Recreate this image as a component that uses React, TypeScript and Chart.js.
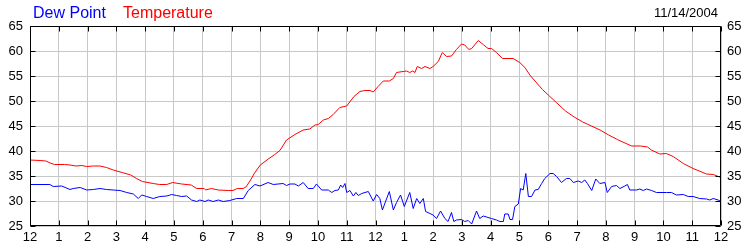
import React, { useEffect, useRef } from "react";
import { Chart, registerables } from "chart.js";

Chart.register(...registerables);

const seriesNames = ["Dew Point", "Temperature"];
const dateLabel = "11/14/2004";
const hourLabels = ["12","1","2","3","4","5","6","7","8","9","10","11","12","1","2","3","4","5","6","7","8","9","10","11","12"];
const yTicks = [25, 30, 35, 40, 45, 50, 55, 60, 65];

const tempHours = [0.0,0.35,0.55,0.7,0.85,1.2,1.39,1.6,1.8,1.97,2.2,2.43,2.66,2.89,3.2,3.5,3.7,3.9,4.28,4.5,4.75,4.95,5.27,5.6,5.79,6.05,6.1,6.3,6.54,6.9,7.05,7.2,7.4,7.5,7.64,7.8,8.0,8.3,8.5,8.68,8.91,9.2,9.49,9.72,9.9,10.01,10.19,10.36,10.53,10.76,11.0,11.25,11.46,11.63,11.81,11.92,12.09,12.27,12.48,12.62,12.73,12.96,13.08,13.19,13.29,13.37,13.45,13.6,13.72,13.89,14.0,14.18,14.32,14.47,14.64,14.81,14.99,15.1,15.24,15.34,15.57,15.74,15.91,16.03,16.2,16.41,16.78,17.01,17.19,17.36,17.6,17.8,18.0,18.3,18.6,18.9,19.2,19.5,19.8,20.1,20.4,20.7,20.9,21.2,21.45,21.58,21.875,22.1,22.34,22.69,23.03,23.5,23.73,24.0];
const tempValues = [38.2,38.1,38.0,37.6,37.3,37.3,37.2,37.0,37.1,36.9,37.0,37.0,36.7,36.2,35.7,35.2,34.5,33.9,33.5,33.3,33.3,33.7,33.4,33.2,32.5,32.5,32.2,32.5,32.2,32.1,32.1,32.5,32.5,32.8,34.0,35.6,37.2,38.5,39.3,40.1,42.2,43.3,44.2,44.4,45.2,45.3,46.2,46.5,47.3,48.7,49.0,50.9,51.9,52.1,52.1,51.8,52.9,54.0,54.0,54.5,55.7,55.9,56.0,55.7,56.0,55.7,56.9,56.5,56.9,56.5,56.9,57.9,59.7,58.9,59.0,60.3,61.4,61.2,60.3,60.5,62.1,61.3,60.5,60.5,59.7,58.5,58.5,57.7,56.7,55.2,53.6,52.3,51.2,49.6,48.0,46.8,45.8,45.0,44.2,43.2,42.3,41.5,41.0,41.0,40.8,40.2,39.4,39.5,38.9,37.5,36.5,35.4,35.3,34.7];

const dewHours = [0.0,0.69,0.81,1.1,1.39,1.5,1.74,1.97,2.2,2.43,2.66,2.89,3.13,3.36,3.59,3.76,3.88,4.05,4.28,4.51,4.75,4.92,5.09,5.27,5.44,5.61,5.79,5.9,6.08,6.19,6.36,6.54,6.71,6.94,7.18,7.41,7.58,7.81,7.99,8.27,8.45,8.79,8.91,9.03,9.2,9.32,9.49,9.66,9.84,9.95,10.13,10.36,10.48,10.59,10.71,10.79,10.86,10.94,11.0,11.11,11.23,11.32,11.4,11.52,11.75,11.92,12.04,12.15,12.24,12.48,12.62,12.73,12.87,13.0,13.19,13.31,13.43,13.54,13.66,13.74,13.89,14.0,14.12,14.26,14.41,14.52,14.64,14.72,14.81,14.99,15.1,15.22,15.34,15.51,15.62,15.74,16.03,16.2,16.32,16.44,16.49,16.61,16.67,16.76,16.84,16.96,17.04,17.13,17.22,17.31,17.42,17.54,17.65,17.77,17.88,18.06,18.17,18.29,18.46,18.63,18.75,18.87,19.04,19.16,19.27,19.36,19.51,19.65,19.79,19.97,20.05,20.2,20.37,20.49,20.66,20.75,20.83,21.06,21.18,21.3,21.41,21.59,21.76,22.11,22.28,22.45,22.69,22.86,23.03,23.26,23.5,23.61,23.73,23.9,24.0];
const dewValues = [33.3,33.3,32.9,33.0,32.3,32.5,32.7,32.2,32.3,32.5,32.3,32.2,32.1,31.7,31.4,30.5,31.2,30.9,30.5,30.9,31.0,31.3,31.1,30.9,31.0,30.2,29.9,30.2,29.9,30.2,29.9,30.2,29.9,30.1,30.5,30.5,32.1,33.3,33.0,33.7,33.3,33.5,33.1,33.4,33.4,33.0,33.7,32.5,32.5,33.4,32.2,32.2,31.7,32.1,32.2,33.2,32.7,33.5,31.7,32.1,31.0,31.7,31.1,31.5,31.9,30.0,31.3,30.5,28.2,31.9,28.2,29.7,31.2,28.9,31.7,28.5,30.5,29.5,30.5,27.9,27.5,27.2,26.5,28.0,26.5,25.9,27.7,25.9,26.2,26.3,25.9,26.1,25.4,28.0,26.5,27.0,26.5,26.2,25.9,25.9,27.4,27.4,26.3,26.3,28.9,29.4,32.5,32.2,35.5,30.9,30.9,32.2,32.3,33.5,34.5,35.5,35.5,34.9,33.7,34.5,34.5,33.7,34.0,33.7,34.2,33.5,32.1,34.4,33.5,33.7,31.7,32.9,33.1,32.5,33.0,33.3,32.2,32.2,32.4,32.1,32.4,32.1,31.7,31.7,31.7,31.2,31.3,30.9,30.9,30.5,30.4,30.2,30.5,30.2,29.9];

const FONT = "'Liberation Sans', Arial, sans-serif";

const framePlugin = {
  id: "frame",
  afterDraw(chart: any) {
    const { ctx, chartArea } = chart;
    const { left, right, top, bottom } = chartArea;
    const xs = chart.scales.x;
    const ys = chart.scales.y;
    ctx.save();
    ctx.strokeStyle = "#000";
    ctx.lineWidth = 1;
    ctx.beginPath();
    const L = Math.round(left) + 0.5, R = Math.round(right) - 0.5;
    const T = Math.round(top) + 0.5, B = Math.round(bottom) - 0.5;
    ctx.rect(L, T, R - L, B - T);
    for (let i = 0; i < hourLabels.length; i++) {
      const px = Math.round(xs.getPixelForValue(i)) + 0.5;
      ctx.moveTo(px, T);
      ctx.lineTo(px, T + 5);
      ctx.moveTo(px, B);
      ctx.lineTo(px, B - 5);
    }
    for (const v of yTicks) {
      const py = Math.round(ys.getPixelForValue(v)) + 0.5;
      ctx.moveTo(L, py);
      ctx.lineTo(L + 5, py);
      ctx.moveTo(R, py);
      ctx.lineTo(R - 5, py);
    }
    ctx.stroke();
    // header texts
    ctx.textBaseline = "alphabetic";
    ctx.font = `16px ${FONT}`;
    ctx.textAlign = "left";
    ctx.fillStyle = "#0000ff";
    ctx.fillText(seriesNames[0], 33, 17.5);
    ctx.fillStyle = "#ff0000";
    ctx.fillText(seriesNames[1], 123, 17.5);
    ctx.font = `13px ${FONT}`;
    ctx.fillStyle = "#000";
    ctx.textAlign = "right";
    ctx.fillText(dateLabel, 718, 17);
    ctx.restore();
  },
};

export default function App() {
  const ref = useRef<HTMLCanvasElement | null>(null);
  useEffect(() => {
    if (!ref.current) return;
    const dewData = dewHours.map((h, i) => ({ x: h, y: dewValues[i] }));
    const tempData = tempHours.map((h, i) => ({ x: h, y: tempValues[i] }));
    const tickFont = { family: FONT, size: 13 };
    const chart = new Chart(ref.current, {
      type: "line",
      data: {
        datasets: [
          { label: seriesNames[0], data: dewData, borderColor: "#0000ff", borderWidth: 1, pointRadius: 0, tension: 0, fill: false },
          { label: seriesNames[1], data: tempData, borderColor: "#ff0000", borderWidth: 1, pointRadius: 0, tension: 0, fill: false },
        ],
      },
      options: {
        responsive: false,
        animation: false,
        layout: { padding: { top: 26, left: 0, right: 0, bottom: 0 } },
        plugins: { legend: { display: false }, tooltip: { enabled: false }, title: { display: false } },
        scales: {
          x: {
            type: "linear",
            min: 0,
            max: 24,
            afterFit: (s: any) => { s.height = 24; },
            ticks: {
              stepSize: 1,
              autoSkip: false,
              maxRotation: 0,
              padding: 4,
              color: "#000",
              font: tickFont,
              callback: (v: any) => hourLabels[Math.round(Number(v))] ?? "",
            },
            grid: { color: "#c8c8c8", drawTicks: false },
            border: { display: false },
          },
          y: {
            type: "linear",
            position: "left",
            min: 25,
            max: 65,
            afterFit: (s: any) => { s.width = 30; },
            ticks: { stepSize: 5, padding: 7, color: "#000", font: tickFont },
            grid: { color: "#c8c8c8", drawTicks: false },
            border: { display: false },
          },
          y2: {
            type: "linear",
            position: "right",
            min: 25,
            max: 65,
            afterFit: (s: any) => { s.width = 29; },
            ticks: { stepSize: 5, padding: 6, color: "#000", font: tickFont },
            grid: { display: false, drawTicks: false },
            border: { display: false },
          },
        },
      },
      plugins: [framePlugin],
    });
    return () => chart.destroy();
  }, []);
  return (
    <div style={{ position: "absolute", left: 0, top: 0, width: 750, height: 250, background: "#fff" }}>
      <canvas ref={ref} width={750} height={250} style={{ display: "block" }} />
    </div>
  );
}
